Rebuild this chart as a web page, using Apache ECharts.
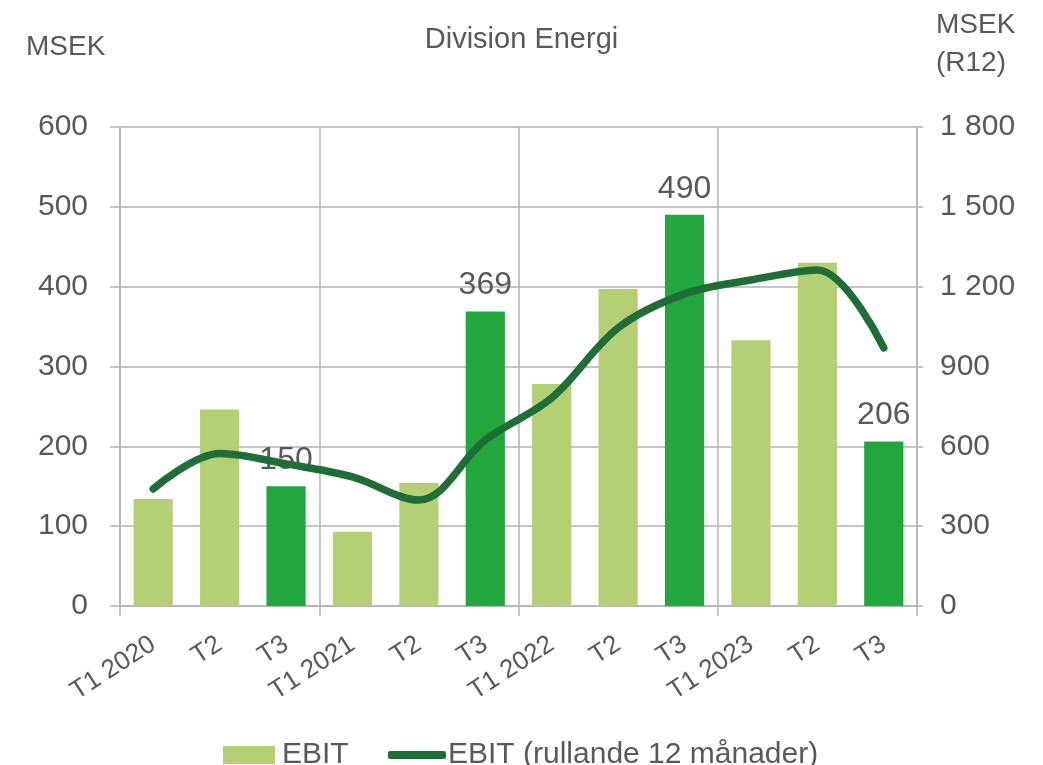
<!DOCTYPE html>
<html><head><meta charset="utf-8">
<script src="https://cdn.jsdelivr.net/npm/echarts@6/dist/echarts.min.js"></script>
<style>html,body{margin:0;padding:0;background:#fff}#c{width:1043px;height:765px}</style>
</head><body><div id="c"></div>
<script>
const categories = ['T1 2020','T2','T3','T1 2021','T2','T3','T1 2022','T2','T3','T1 2023','T2','T3'];
const ebit = [134, 246, 150, 93, 154, 369, 278, 397, 490, 333, 430, 206];
const ebitR12 = [440, 573, 534, 485, 398, 624, 782, 1045, 1173, 1225, 1263, 970];
const leftTicks = [0, 100, 200, 300, 400, 500, 600];
const rightTicks = [0, 300, 600, 900, 1200, 1500, 1800];
const highlighted = [2, 5, 8, 11];

const FONT = 'Liberation Sans';
const TXT = '#595959';
const LIGHT = '#b5cf75';
const DARK = '#22a73f';
const LINE = '#1f6e38';
const GRID = '#b3b3b3';

const chart = echarts.init(document.getElementById('c'), null, {renderer:'canvas'});
const fmt = v => String(v).replace(/\B(?=(\d{3})+(?!\d))/g, ' ');

chart.setOption({
  animation:false,
  textStyle:{fontFamily:FONT, color:TXT},
  title:[
    {text:'Division Energi', left:'center', top:20, textStyle:{fontFamily:FONT, fontSize:29, fontWeight:'normal', color:TXT}},
    {text:'MSEK', left:21, top:28, textStyle:{fontFamily:FONT, fontSize:28, fontWeight:'normal', color:TXT}},
    {text:'MSEK\n(R12)', left:931, top:1, textStyle:{fontFamily:FONT, fontSize:28, fontWeight:'normal', color:TXT, lineHeight:38}}
  ],
  legend:[
    {data:[{name:'EBIT', icon:'rect'}], left:218, top:735, itemWidth:52, itemHeight:18, itemGap:8,
     textStyle:{fontFamily:FONT, fontSize:30, color:TXT, padding:[0,0,0,2]}},
    {data:[{name:'EBIT (rullande 12 månader)', icon:'roundRect'}], left:383, top:735, itemWidth:58, itemHeight:8, itemGap:2,
     textStyle:{fontFamily:FONT, fontSize:30, color:TXT, padding:[0,0,0,-3]}}
  ],
  grid:{left:120, right:126, top:127, bottom:159, containLabel:false},
  xAxis:{
    type:'category', data:categories, boundaryGap:true,
    axisLine:{lineStyle:{color:GRID, width:1.5}},
    axisTick:{show:true, interval:(i)=>i%3===0, length:10, lineStyle:{color:GRID, width:1.5}},
    splitLine:{show:true, interval:(i)=>i%3===0, lineStyle:{color:GRID, width:1.5}},
    axisLabel:{rotate:33, interval:0, fontFamily:FONT, fontSize:26, color:TXT, margin:36}
  },
  yAxis:[
    {type:'value', min:leftTicks[0], max:leftTicks[leftTicks.length-1], interval:100, position:'left',
     axisLine:{show:true, lineStyle:{color:GRID, width:1.5}},
     axisTick:{show:true, length:10, lineStyle:{color:GRID, width:1.5}},
     splitLine:{show:true, lineStyle:{color:GRID, width:1.5}},
     axisLabel:{fontFamily:FONT, fontSize:30, color:TXT, margin:32, formatter:fmt}},
    {type:'value', min:rightTicks[0], max:rightTicks[rightTicks.length-1], interval:300, position:'right',
     axisLine:{show:true, lineStyle:{color:GRID, width:1.5}},
     axisTick:{show:true, length:6, lineStyle:{color:GRID, width:1.5}},
     splitLine:{show:false},
     axisLabel:{fontFamily:FONT, fontSize:30, color:TXT, margin:23, formatter:fmt}}
  ],
  series:[
    {name:'EBIT', type:'bar', yAxisIndex:0, barWidth:'59%', itemStyle:{color:LIGHT},
     data: ebit.map((v,i)=> highlighted.includes(i)
       ? {value:v, itemStyle:{color:DARK}, label:{show:true, position:'top', distance:10, fontFamily:FONT, fontSize:32, color:TXT}}
       : {value:v}),
     z:2},
    {name:'EBIT (rullande 12 månader)', type:'line', yAxisIndex:1, data:ebitR12, smooth:0.35,
     showSymbol:false, symbol:'none', itemStyle:{color:LINE},
     lineStyle:{color:LINE, width:7.5, cap:'round', join:'round'}, z:5}
  ]
});
</script></body></html>
